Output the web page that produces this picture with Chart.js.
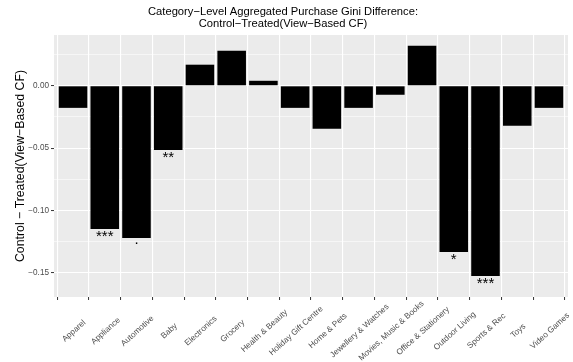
<!DOCTYPE html>
<html>
<head>
<meta charset="utf-8">
<script src="https://cdn.jsdelivr.net/npm/chart.js@4/dist/chart.umd.min.js"></script>
<style>
  html, body { margin: 0; padding: 0; background: #fff; }
  #wrap { width: 573px; height: 362px; position: relative; }
</style>
</head>
<body>
<div id="wrap"><canvas id="c" width="573" height="362"></canvas></div>
<script>
// Category-level Gini difference (Control - Treated), view-based CF
const categories = [
  'Apparel', 'Appliance', 'Automotive', 'Baby', 'Electronics', 'Grocery',
  'Health & Beauty', 'Holiday Gift Centre', 'Home & Pets', 'Jewellery & Watches',
  'Movies, Music & Books', 'Office & Stationery', 'Outdoor Living', 'Sports & Rec',
  'Toys', 'Video Games'
];
const giniDiff = [
  -0.0177, -0.1148, -0.1220, -0.0514, 0.0169, 0.0281,
  0.0040, -0.0177, -0.0345, -0.0177,
  -0.0072, 0.0321, -0.1332, -0.1525,
  -0.0321, -0.0177
];
const significance = [
  '', '***', '.', '**', '', '',
  '', '', '', '',
  '', '', '*', '***',
  '', ''
];
const yMajorTicks = [0, -0.05, -0.10, -0.15];
const yMinorTicks = [0.025, -0.025, -0.075, -0.125];

const titleLines = ['Category\u2212Level Aggregated Purchase Gini Difference:', 'Control\u2212Treated(View\u2212Based CF)'];
const yTitle = 'Control \u2212 Treated(View\u2212Based CF)';

const FONT = '"Liberation Sans", Arial, Helvetica, sans-serif';
const X_LABEL_ANGLE = 42;

const isMajor = v => yMajorTicks.some(m => Math.abs(m - v) < 1e-9);

// grey panel behind the plotting area
const panelBg = {
  id: 'panelBg',
  beforeDraw(chart) {
    const {ctx, chartArea: a} = chart;
    ctx.save();
    ctx.fillStyle = '#EBEBEB';
    ctx.fillRect(a.left, a.top, a.right - a.left, a.bottom - a.top);
    ctx.restore();
  }
};

// two-line centred title
const plotTitle = {
  id: 'plotTitle',
  afterDraw(chart) {
    const {ctx} = chart;
    ctx.save();
    ctx.fillStyle = '#000';
    ctx.font = '11.2px ' + FONT;
    ctx.textAlign = 'center';
    ctx.textBaseline = 'middle';
    ctx.fillText(titleLines[0], 283, 12);
    ctx.fillText(titleLines[1], 283, 23.5);
    ctx.restore();
  }
};

// slanted category labels, each centred under its tick
const slantedLabels = {
  id: 'slantedLabels',
  afterDraw(chart) {
    const {ctx} = chart;
    const xs = chart.scales.x;
    ctx.save();
    ctx.fillStyle = '#4D4D4D';
    ctx.font = '8.2px ' + FONT;
    ctx.textAlign = 'center';
    ctx.textBaseline = 'middle';
    xs.ticks.forEach(t => {
      const x = xs.getPixelForValue(t.value) + 1;
      const y = xs.top + 34;
      ctx.save();
      ctx.translate(x, y);
      ctx.rotate(-X_LABEL_ANGLE * Math.PI / 180);
      ctx.fillText(t.label, 0, 0);
      ctx.restore();
    });
    ctx.restore();
  }
};

// significance markers under each bar
const sigMarks = {
  id: 'sigMarks',
  afterDatasetsDraw(chart) {
    const {ctx} = chart;
    const xs = chart.scales.x, ys = chart.scales.y;
    ctx.save();
    ctx.fillStyle = '#000';
    ctx.font = '15px ' + FONT;
    ctx.textAlign = 'center';
    ctx.textBaseline = 'alphabetic';
    significance.forEach((s, i) => {
      if (!s) return;
      const x = xs.getPixelForValue(i);
      const yb = ys.getPixelForValue(giniDiff[i]);
      const m = ctx.measureText(s);
      const base = yb + 4.8 + (m.actualBoundingBoxAscent - m.actualBoundingBoxDescent) / 2;
      ctx.fillText(s, x, base);
    });
    ctx.restore();
  }
};

new Chart(document.getElementById('c'), {
  type: 'bar',
  data: {
    datasets: [{
      data: categories.map((c, i) => ({x: i, y: giniDiff[i]})),
      backgroundColor: '#000000',
      borderWidth: 0,
      barPercentage: 0.9,
      categoryPercentage: 1.0
    }]
  },
  options: {
    responsive: false,
    animation: false,
    devicePixelRatio: 1,
    layout: { padding: { top: 35, right: 5, left: 0, bottom: 0 } },
    plugins: { legend: { display: false }, tooltip: { enabled: false }, title: { display: false } },
    scales: {
      x: {
        type: 'linear',
        min: -0.6,
        max: 15.6,
        offset: false,
        afterBuildTicks: s => { s.ticks = categories.map((c, i) => ({value: i})); },
        afterFit: s => { s.height = 65; },
        border: { display: false },
        grid: {
          color: '#FFFFFF',
          lineWidth: 1.1,
          drawTicks: true,
          tickLength: 3,
          tickColor: '#333333',
          tickWidth: 1
        },
        ticks: {
          display: false,
          autoSkip: false,
          callback: v => categories[v]
        }
      },
      y: {
        type: 'linear',
        min: -0.1693,
        max: 0.0407,
        afterBuildTicks: s => {
          s.ticks = yMinorTicks.concat(yMajorTicks).sort((a, b) => a - b).map(v => ({value: v}));
        },
        afterFit: s => { s.width = 54; },
        border: { display: false },
        title: {
          display: true,
          text: yTitle,
          color: '#000',
          font: { family: FONT, size: 12.3 },
          padding: { top: 13, bottom: 0 }
        },
        grid: {
          color: '#FFFFFF',
          lineWidth: c => isMajor(c.tick.value) ? 1.1 : 0.55,
          drawTicks: true,
          tickLength: 3,
          tickColor: c => isMajor(c.tick.value) ? '#333333' : 'rgba(0,0,0,0)',
          tickWidth: 1
        },
        ticks: {
          autoSkip: false,
          padding: 2,
          color: '#4D4D4D',
          font: { family: FONT, size: 8.2 },
          callback: v => isMajor(v) ? (v < 0 ? '\u2212' : '') + Math.abs(v).toFixed(2) : ''
        }
      }
    }
  },
  plugins: [panelBg, plotTitle, slantedLabels, sigMarks]
});
</script>
</body>
</html>
